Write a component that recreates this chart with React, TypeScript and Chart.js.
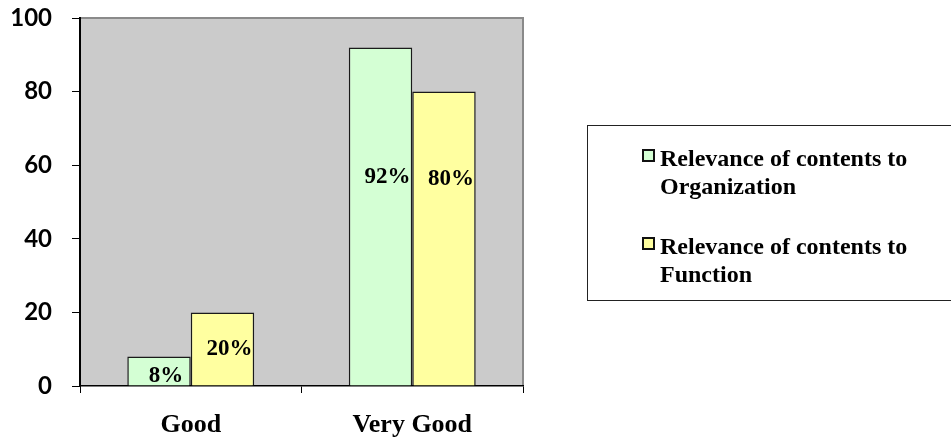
import React, { useEffect, useRef } from "react";
import { Chart, registerables } from "chart.js";

Chart.register(...registerables);

// Ratings and the share of respondents (%) for each aspect
const categories: string[] = ["Good", "Very Good"];
const seriesNames: string[][] = [
  ["Relevance of contents to", "Organization"],
  ["Relevance of contents to", "Function"],
];
const organizationValues: number[] = [8, 92];
const functionValues: number[] = [20, 80];
const yTicks: number[] = [0, 20, 40, 60, 80, 100];

const GREEN = "#D4FFD4";
const YELLOW = "#FFFFA0";
const PLOT_BG = "#CBCBCB";
const SERIF = '"Liberation Serif", "Times New Roman", serif';

// Baseline heights (in axis units) where the value labels sit inside each bar
const labelBaselines: number[][] = [
  [1.1, 55.2],
  [8.4, 54.6],
];

const plotBackground = {
  id: "plotBackground",
  beforeDraw(chart: any) {
    const { ctx, chartArea: a } = chart;
    ctx.save();
    ctx.fillStyle = PLOT_BG;
    ctx.fillRect(a.left, a.top, a.right - a.left, a.bottom - a.top);
    // grey frame on the top and right edges
    ctx.strokeStyle = "#8a8a8a";
    ctx.lineWidth = 2;
    ctx.beginPath();
    ctx.moveTo(a.left, a.top);
    ctx.lineTo(a.right, a.top);
    ctx.lineTo(a.right, a.bottom);
    ctx.stroke();
    ctx.restore();
  },
};

const valueLabels = {
  id: "valueLabels",
  afterDatasetsDraw(chart: any) {
    const { ctx } = chart;
    const yScale = chart.scales.y;
    ctx.save();
    ctx.font = `bold 23px ${SERIF}`;
    ctx.fillStyle = "#000";
    ctx.textAlign = "center";
    ctx.textBaseline = "alphabetic";
    chart.data.datasets.forEach((ds: any, i: number) => {
      const meta = chart.getDatasetMeta(i);
      meta.data.forEach((bar: any, j: number) => {
        const y = yScale.getPixelForValue(labelBaselines[i][j]);
        ctx.fillText(`${ds.data[j]}%`, bar.x + 7, y);
      });
    });
    ctx.restore();
  },
};

const sideLegend = {
  id: "sideLegend",
  afterDraw(chart: any) {
    const { ctx } = chart;
    const colors = [GREEN, YELLOW];
    ctx.save();
    ctx.strokeStyle = "#222";
    ctx.lineWidth = 1;
    ctx.strokeRect(587.5, 125.5, 380, 175);
    ctx.font = `bold 24px ${SERIF}`;
    ctx.textAlign = "left";
    ctx.textBaseline = "alphabetic";
    seriesNames.forEach((lines, i) => {
      const top = 166 + i * 88;
      ctx.fillStyle = colors[i];
      ctx.fillRect(643, top - 16, 11, 11);
      ctx.strokeStyle = "#111";
      ctx.lineWidth = 2;
      ctx.strokeRect(643, top - 16, 11, 11);
      ctx.fillStyle = "#000";
      lines.forEach((line, k) => ctx.fillText(line, 660, top + k * 28));
    });
    ctx.restore();
  },
};

export default function App() {
  const canvasRef = useRef<HTMLCanvasElement | null>(null);

  useEffect(() => {
    if (!canvasRef.current) return;
    const chart = new Chart(canvasRef.current, {
      type: "bar",
      data: {
        labels: categories,
        datasets: [
          {
            label: seriesNames[0].join(" "),
            data: organizationValues,
            backgroundColor: GREEN,
            borderColor: "#1a1a1a",
            borderWidth: 1.5,
            categoryPercentage: 0.573,
            barPercentage: 1,
          },
          {
            label: seriesNames[1].join(" "),
            data: functionValues,
            backgroundColor: YELLOW,
            borderColor: "#1a1a1a",
            borderWidth: 1.5,
            categoryPercentage: 0.573,
            barPercentage: 1,
          },
        ],
      },
      options: {
        responsive: false,
        animation: false,
        devicePixelRatio: 1,
        layout: { padding: { left: 0, top: 18, right: 428, bottom: 0 } },
        plugins: {
          legend: { display: false },
          tooltip: { enabled: false },
        },
        scales: {
          x: {
            offset: true,
            grid: {
              offset: true,
              drawOnChartArea: false,
              drawTicks: true,
              tickLength: 7,
              color: "#000",
            },
            border: { display: true, color: "#000", width: 1.5 },
            ticks: {
              color: "#000",
              padding: 17,
              font: { family: SERIF, weight: "bold", size: 26 },
            },
            afterFit(scale: any) {
              scale.height = 55;
              scale.paddingLeft = 0;
              scale.paddingRight = 0;
            },
          },
          y: {
            min: 0,
            max: 100,
            afterBuildTicks(scale: any) {
              scale.ticks = yTicks.map((v) => ({ value: v }));
            },
            grid: {
              drawOnChartArea: false,
              drawTicks: true,
              tickLength: 8,
              color: "#000",
            },
            border: { display: true, color: "#000", width: 2 },
            ticks: {
              color: "#000",
              padding: 20,
              font: { family: "Lato, sans-serif", weight: "bold", size: 24 },
            },
            afterFit(scale: any) {
              scale.width = 80;
              scale.paddingTop = 0;
              scale.paddingBottom = 0;
            },
          },
        },
      },
      plugins: [plotBackground, valueLabels, sideLegend],
    });
    return () => chart.destroy();
  }, []);

  return (
    <div style={{ position: "absolute", left: 0, top: 0, width: 951, height: 441, background: "#fff" }}>
      <canvas ref={canvasRef} width={951} height={441} />
    </div>
  );
}
